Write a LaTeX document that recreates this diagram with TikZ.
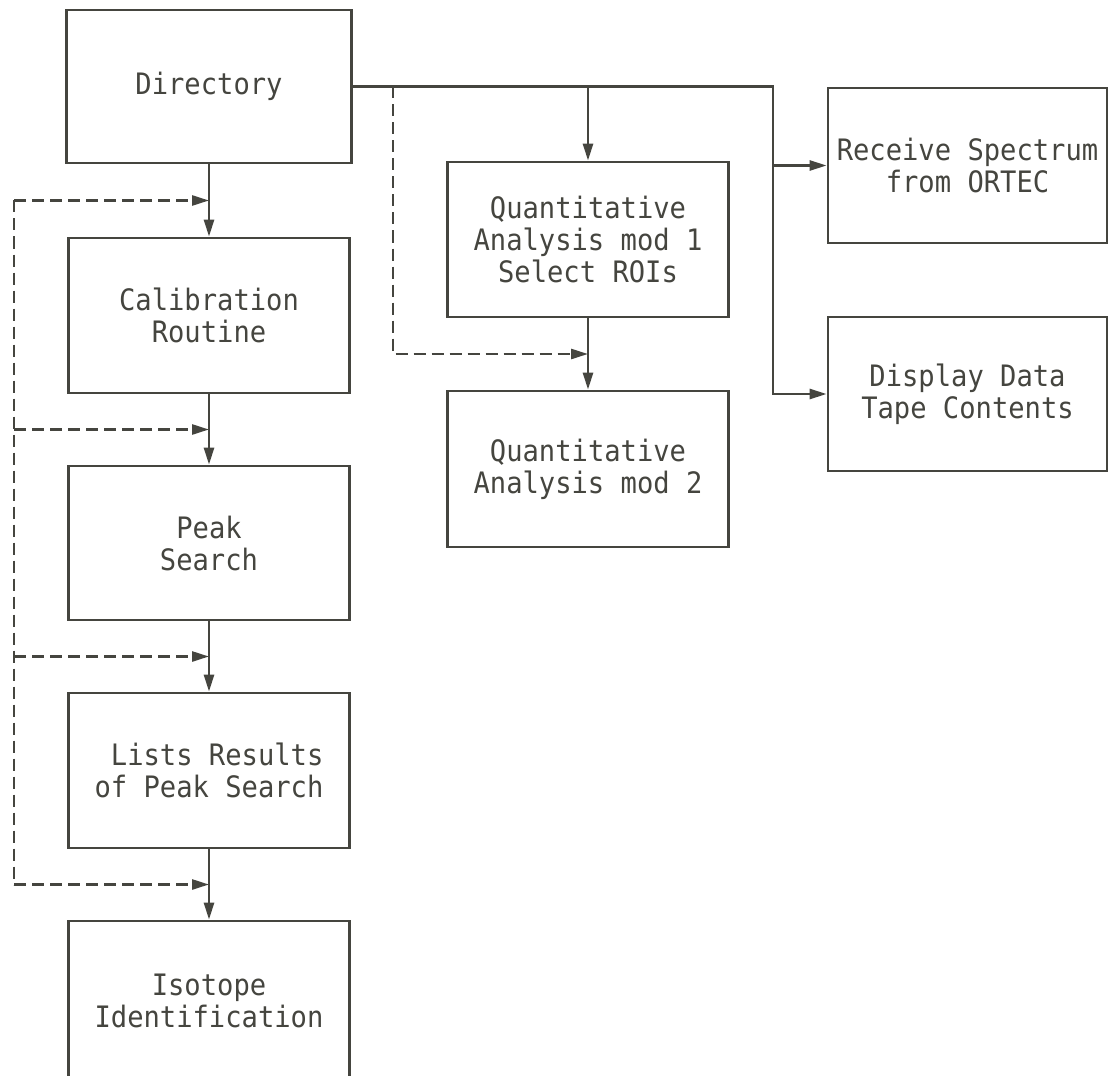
\documentclass[tikz,border=0pt]{standalone}
\usepackage{fontspec}
\newfontfamily\tw{DejaVu Sans Mono}[FakeStretch=0.92]
\usetikzlibrary{arrows.meta,calc}
\definecolor{ink}{HTML}{45453F}
\begin{document}
\begin{tikzpicture}[x=1pt,y=-1pt,
  box/.style={draw=ink,line width=2.8pt,minimum width=281pt,minimum height=155pt,
    inner sep=0pt,align=center,text=ink,font=\tw\fontsize{29.5}{32}\selectfont},
  conn/.style={draw=ink,line width=2.6pt},
  dsh/.style={draw=ink,line width=2.6pt,dash pattern=on 12pt off 6pt},
  arr/.style={-{Triangle[length=17pt,width=10pt]}}
]
\useasboundingbox (0,0) rectangle (1115,1075);
\fill[white] (0,0) rectangle (1115,1075);
\clip (0,0) rectangle (1115,1075);

\node[box,minimum width=285pt,minimum height=153pt] (dir) at (209,86.5) {Directory};
\node[box] (cal) at (209,315.5) {Calibration\\Routine};
\node[box,minimum height=154pt] (peak) at (209,543) {Peak\\Search};
\node[box] (lists) at (209,770.5) {~Lists Results\\of Peak Search};
\node[box,minimum height=160pt] (iso) at (209,1001) {Isotope\\Identification};

\node[box] (q1) at (588,239.5) {Quantitative\\Analysis mod 1\\Select ROIs};
\node[box,minimum height=156pt] (q2) at (588,469) {Quantitative\\Analysis mod 2};

\node[box,minimum width=279pt] (rec) at (967.5,165.5) {Receive Spectrum\\from ORTEC};
\node[box,minimum width=279pt,minimum height=154pt] (disp) at (967.5,394) {Display Data\\Tape Contents};

% solid connectors
\coordinate (bx) at (773,0);
\draw[conn,arr] (dir.east) -| (bx |- disp.west) -- (disp.west);
\draw[conn,arr] (bx |- rec.west) -- (rec.west);
\draw[conn,arr] (dir.east -| q1.north) -- (q1.north);
\draw[conn,arr] (q1.south) -- (q2.north);
\draw[conn,arr] (dir.south) -- (cal.north);
\draw[conn,arr] (cal.south) -- (peak.north);
\draw[conn,arr] (peak.south) -- (lists.north);
\draw[conn,arr] (lists.south) -- (iso.north);

% dashed connectors
\coordinate (dx) at (393,0);
\coordinate (qm) at ($(q1.south)!0.5!(q2.north)$);
\draw[dsh,arr] (dx |- dir.east) |- (qm);

\coordinate (lx) at (14,0);
\coordinate (m1) at ($(dir.south)!0.5!(cal.north)$);
\coordinate (m2) at ($(cal.south)!0.5!(peak.north)$);
\coordinate (m3) at ($(peak.south)!0.5!(lists.north)$);
\coordinate (m4) at ($(lists.south)!0.5!(iso.north)$);
\draw[dsh,arr] (lx |- m1) -- (m1);
\draw[dsh] (lx |- m1) -- (lx |- m4);
\draw[dsh,arr] (lx |- m2) -- (m2);
\draw[dsh,arr] (lx |- m3) -- (m3);
\draw[dsh,arr] (lx |- m4) -- (m4);
\end{tikzpicture}
\end{document}
